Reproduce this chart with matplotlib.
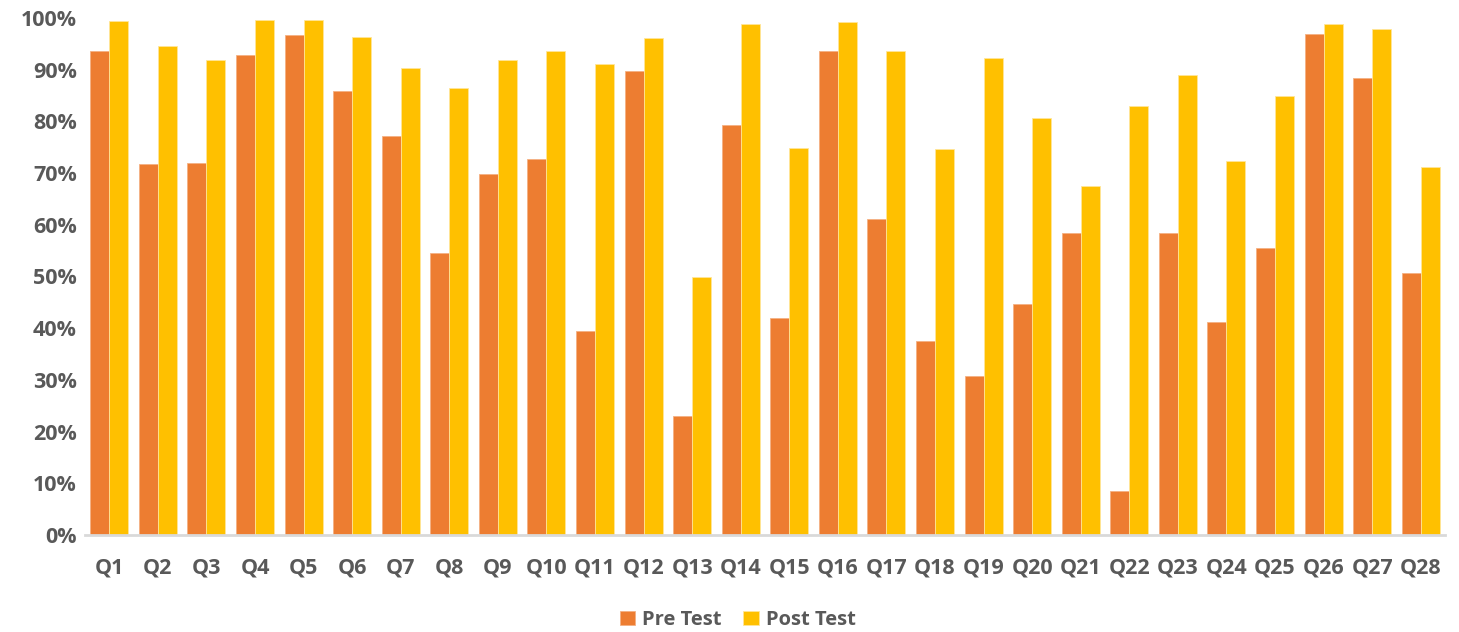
import numpy as np
import matplotlib.pyplot as plt
from matplotlib.ticker import PercentFormatter

# Data
questions = ['Q%d' % i for i in range(1, 29)]
pre_test = [93.7, 71.8, 72.0, 92.8, 96.7, 85.9, 77.2, 54.5, 69.8, 72.7,
            39.5, 89.7, 23.0, 79.4, 42.0, 93.7, 61.1, 37.5, 30.8, 44.7,
            58.4, 8.5, 58.4, 41.2, 55.6, 96.9, 88.3, 50.6]
post_test = [99.4, 94.5, 91.9, 99.6, 99.7, 96.3, 90.3, 86.4, 91.8, 93.7,
             91.1, 96.1, 50.0, 98.9, 74.8, 99.2, 93.6, 74.6, 92.3, 80.7,
             67.6, 82.9, 89.0, 72.3, 84.9, 98.9, 97.8, 71.2]

plt.rcParams['font.family'] = ['Open Sans', 'DejaVu Sans']
text_col = '#595959'

fig = plt.figure(figsize=(14.59, 6.32), dpi=100)
ax = fig.add_axes([85 / 1459, 97 / 632, 1360 / 1459, 517 / 632])

x = np.arange(len(questions))
w = 0.39
ax.bar(x - w / 2, pre_test, w, color='#ED7D31', edgecolor='#F4B183',
       linewidth=0.6, label='Pre Test')
ax.bar(x + w / 2, post_test, w, color='#FFC000', edgecolor='#FFE699',
       linewidth=0.6, label='Post Test')

ax.set_xlim(-0.5, len(questions) - 0.5)
ax.set_ylim(0, 100)
ax.set_yticks(np.arange(0, 101, 10))
ax.yaxis.set_major_formatter(PercentFormatter(decimals=0))
ax.set_xticks(x)
ax.set_xticklabels(questions)

for s in ['top', 'right', 'left']:
    ax.spines[s].set_visible(False)
ax.spines['bottom'].set_color('#D9D9D9')
ax.spines['bottom'].set_linewidth(2)

ax.tick_params(axis='both', length=0, labelsize=15.5, colors=text_col)
ax.tick_params(axis='x', pad=16)
ax.tick_params(axis='y', pad=6)
for lab in ax.get_xticklabels() + ax.get_yticklabels():
    lab.set_fontweight('bold')

leg = fig.legend(loc='center', bbox_to_anchor=(0.5055, 1 - 620 / 632), ncol=2,
                 frameon=False, handlelength=0.75, handleheight=0.75,
                 handletextpad=0.35, columnspacing=1.1,
                 prop={'size': 14.5, 'weight': 'bold'})
for t in leg.get_texts():
    t.set_color(text_col)

plt.savefig('out.png', dpi=100)
